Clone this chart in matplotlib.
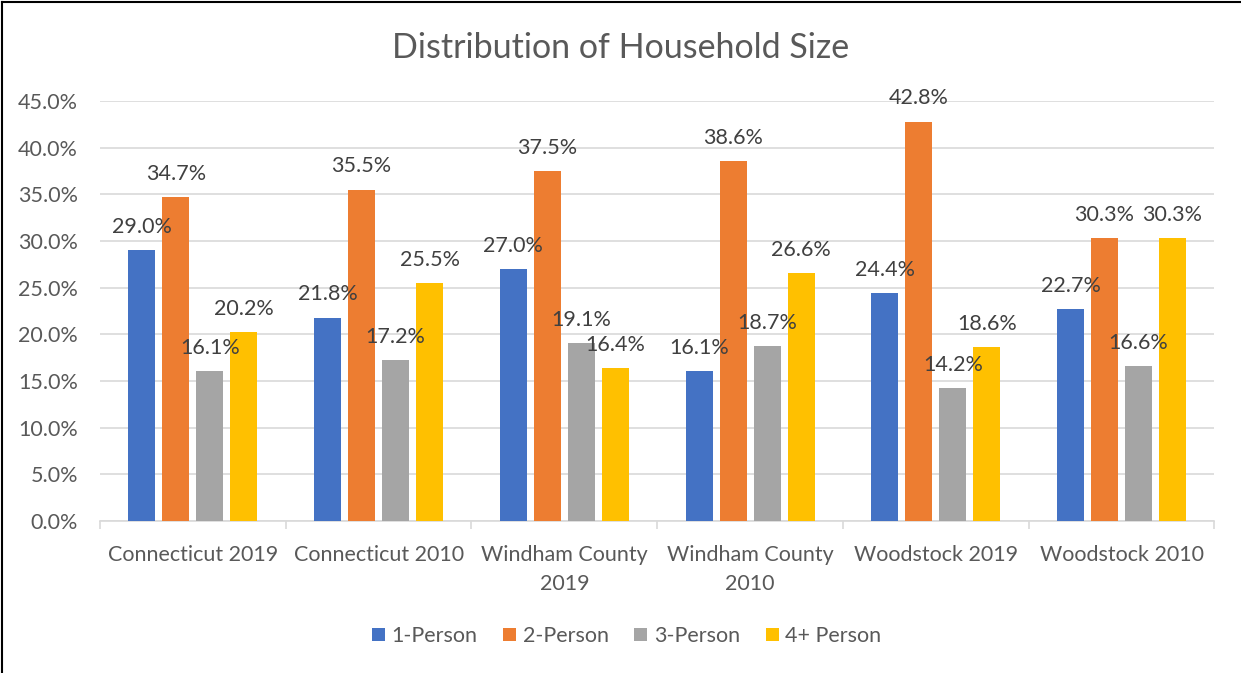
import matplotlib.pyplot as plt
import numpy as np

categories = ["Connecticut 2019", "Connecticut 2010", "Windham County\n2019",
              "Windham County\n2010", "Woodstock 2019", "Woodstock 2010"]
series_names = ["1-Person", "2-Person", "3-Person", "4+ Person"]
one_person = [29.0, 21.8, 27.0, 16.1, 24.4, 22.7]
two_person = [34.7, 35.5, 37.5, 38.6, 42.8, 30.3]
three_person = [16.1, 17.2, 19.1, 18.7, 14.2, 16.6]
four_person = [20.2, 25.5, 16.4, 26.6, 18.6, 30.3]
colors = ["#4472C4", "#ED7D31", "#A5A5A5", "#FFC000"]

plt.rcParams['font.family'] = ['Lato', 'DejaVu Sans']
txt = "#595959"

fig = plt.figure(figsize=(12.41, 6.73), dpi=100)
ax = fig.add_axes([0.0806, 0.2259, 0.898, 0.624])

x = np.arange(len(categories))
width = 0.145
step = 0.183
all_series = [one_person, two_person, three_person, four_person]
for i, vals in enumerate(all_series):
    off = (i - 1.5) * step
    bars = ax.bar(x + off, vals, width, color=colors[i], label=series_names[i], zorder=3)
    for b, v in zip(bars, vals):
        ax.annotate(f"{v:.1f}%", (b.get_x() + b.get_width() / 2, v),
                    xytext=(0, 9.5), textcoords="offset points",
                    ha="center", va="bottom", fontsize=15.5, color="#404040", zorder=4)

ax.set_xlim(-0.5, len(categories) - 0.5)
ax.set_ylim(0, 45)
ax.set_yticks(np.arange(0, 46, 5))
ax.set_yticklabels([f"{v:.1f}%" for v in np.arange(0, 46, 5)])
ax.yaxis.grid(True, color="#D9D9D9", linewidth=1.2, zorder=0)
ax.set_axisbelow(True)
for s in ["top", "right", "left"]:
    ax.spines[s].set_visible(False)
ax.spines["bottom"].set_color("#D9D9D9")
ax.spines["bottom"].set_linewidth(1.2)
ax.tick_params(axis="y", length=0, labelsize=15.5, labelcolor=txt, pad=16)

ax.set_xticks(x)
ax.set_xticklabels(categories, linespacing=1.6)
ax.tick_params(axis="x", length=0, labelsize=15.5, labelcolor=txt, pad=17)
ax.set_xticks(np.arange(-0.5, len(categories), 1), minor=True)
ax.tick_params(axis="x", which="minor", length=6, color="#D9D9D9", width=1.2)

fig.text(0.5, 0.928, "Distribution of Household Size", ha="center", va="center",
         fontsize=24.5, color=txt)

ax.legend(loc="center", bbox_to_anchor=(0.505, 0.055), bbox_transform=fig.transFigure,
          ncol=4, frameon=False, fontsize=15.5, labelcolor=txt,
          handlelength=0.6, handleheight=0.6, columnspacing=1.2, handletextpad=0.3)

# chart border (left and top visible in the reference)
fig.add_artist(plt.Line2D([0.002, 0.002], [0, 0.997], color="black", linewidth=1.5,
                          transform=fig.transFigure))
fig.add_artist(plt.Line2D([0.002, 1], [0.997, 0.997], color="black", linewidth=1.5,
                          transform=fig.transFigure))

fig.savefig("out.png", dpi=100)
